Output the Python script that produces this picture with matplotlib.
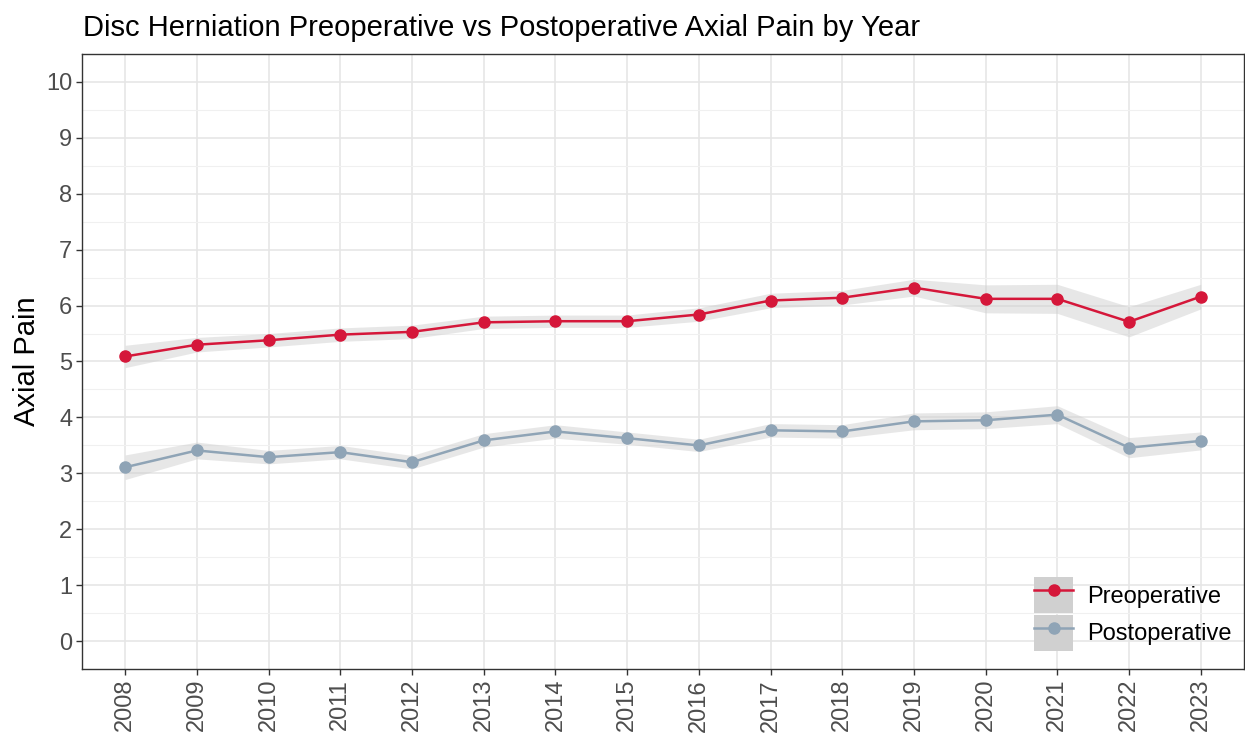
import matplotlib.pyplot as plt
from matplotlib.lines import Line2D
from matplotlib.patches import Patch
import numpy as np

plt.rcParams['font.family'] = ['Liberation Sans', 'DejaVu Sans']

years = list(range(2008, 2024))
pre = [5.09, 5.30, 5.38, 5.48, 5.53, 5.70, 5.72, 5.72, 5.84, 6.09, 6.14, 6.32, 6.12, 6.12, 5.71, 6.16]
pre_err = [0.20, 0.13, 0.12, 0.12, 0.12, 0.11, 0.11, 0.11, 0.12, 0.13, 0.13, 0.15, 0.25, 0.26, 0.27, 0.22]
post = [3.11, 3.41, 3.29, 3.38, 3.20, 3.59, 3.75, 3.63, 3.50, 3.77, 3.75, 3.93, 3.95, 4.05, 3.46, 3.58]
post_err = [0.22, 0.15, 0.12, 0.12, 0.12, 0.12, 0.12, 0.11, 0.11, 0.12, 0.12, 0.15, 0.15, 0.16, 0.18, 0.16]

red = '#d5173a'
blue = '#8fa4b6'
band = '#d0d0d0'

fig = plt.figure(figsize=(12.45, 7.37), dpi=100)
ax = fig.add_axes([0.066, 0.092, 0.933, 0.835])

x = np.array(years)
for vals, err, col, lab in [(pre, pre_err, red, 'Preoperative'), (post, post_err, blue, 'Postoperative')]:
    v = np.array(vals)
    e = np.array(err)
    ax.fill_between(x, v - e, v + e, color=band, alpha=0.5, lw=0, zorder=2)
    ax.plot(x, v, color=col, lw=1.8, marker='o', ms=8, zorder=3, label=lab)

ax.set_xlim(2007.4, 2023.6)
ax.set_ylim(-0.5, 10.5)
ax.set_xticks(years)
ax.set_xticklabels([str(y) for y in years], rotation=90)
ax.set_yticks(range(0, 11))
ax.set_yticks(np.arange(0.5, 10.5, 1), minor=True)
ax.grid(True, which='major', color='#e6e6e6', lw=1.2, zorder=0)
ax.grid(True, which='minor', axis='y', color='#f0f0f0', lw=0.8, zorder=0)
ax.set_axisbelow(True)
ax.tick_params(axis='both', which='major', length=4, width=1, color='#333333',
               labelsize=17, labelcolor='#4d4d4d', pad=3)
ax.tick_params(axis='y', which='minor', length=0)
for s in ax.spines.values():
    s.set_color('#333333')
    s.set_linewidth(1)

ax.set_ylabel('Axial Pain', fontsize=21, color='black', labelpad=4)
fig.text(0.067, 0.962, 'Disc Herniation Preoperative vs Postoperative Axial Pain by Year',
         fontsize=21, ha='left', va='center', color='black')

handles = [
    (Patch(facecolor=band, edgecolor='none'), Line2D([], [], color=red, lw=1.8, marker='o', ms=8)),
    (Patch(facecolor=band, edgecolor='none'), Line2D([], [], color=blue, lw=1.8, marker='o', ms=8)),
]
ax.legend(handles, ['Preoperative', 'Postoperative'], loc='lower right',
          bbox_to_anchor=(1.0, 0.01), frameon=False, fontsize=17, borderaxespad=0.1,
          handlelength=1.65, handleheight=2.0, labelspacing=0.06, handletextpad=0.6)

fig.savefig('out.png', dpi=100)
